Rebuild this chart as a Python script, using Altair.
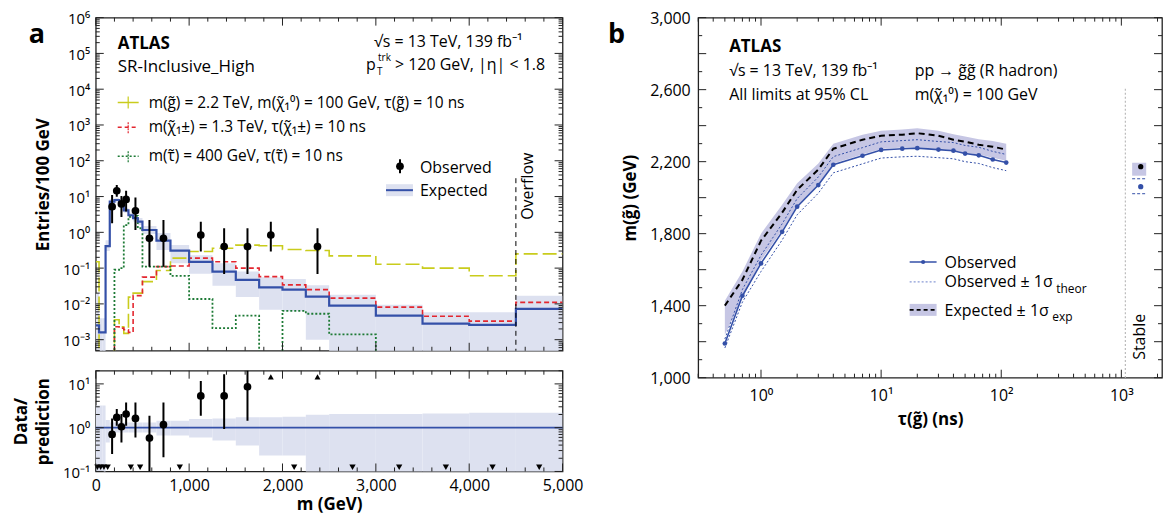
import altair as alt
import pandas as pd

FONT = "Open Sans"

# ---------------- Panel a: mass distribution ----------------
edges = [0, 35, 70, 105, 150, 200, 250, 300, 350, 400, 450, 500, 650, 800, 1000,
         1250, 1500, 1750, 2000, 2250, 2500, 3000, 3500, 4000, 4500, 5000]
exp_a = [0.0025, 0.0016, 0.0016, 0.41, 7.2, 8.0, 5.8, 4.1, 3.0, 2.5, 2.0, 1.16, 0.59,
         0.31, 0.15, 0.08, 0.047, 0.029, 0.025, 0.016, 0.0089, 0.0047, 0.0028, 0.0026, 0.0073]
band_lo = [1e-7, 1e-7, 1e-7, 0.3, 6.0, 6.8, 5.0, 3.5, 2.5, 2.0, 1.6, 0.9, 0.32,
           0.137, 0.07, 0.032, 0.0155, 0.0069, 0.0062, 0.001, 1e-7, 1e-7, 1e-7, 1e-7, 1e-7]
band_hi = [0.02, 0.004, 0.004, 0.6, 8.5, 9.2, 6.7, 4.8, 3.5, 2.9, 2.5, 1.5, 0.96,
           0.44, 0.23, 0.137, 0.08, 0.056, 0.05, 0.033, 0.018, 0.0094, 0.0058, 0.0058, 0.0168]
sig_gluino = [0.15, 1e-7, 1e-7, 1e-7, 1e-7, 0.0036, 0.0023, 0.0015, 0.0155, 0.02, 0.02, 0.042,
              0.086, 0.19, 0.29, 0.36, 0.44, 0.42, 0.33, 0.31, 0.22, 0.128, 0.10, 0.061, 0.25]
sig_chargino = [1e-7, 1e-7, 1e-7, 1e-7, 1e-7, 0.0023, 0.0021, 0.0019, 0.0016, 0.017, 0.017, 0.056,
                0.11, 0.115, 0.19, 0.15, 0.10, 0.058, 0.034, 0.025, 0.0145, 0.0081, 0.0045, 0.0033, 0.011]
sig_stau = [1e-7, 1e-7, 1e-7, 1e-7, 1e-7, 0.09, 0.1, 1.6, 2.7, 2.9, 1.3, 0.11,
            0.11, 0.061, 0.0137, 0.0021, 0.0047, 1e-7, 0.0064, 0.0053, 0.0014, 1e-7, 1e-7, 1e-7, 1e-7]

obs_m = [175, 225, 275, 325, 425, 575, 725, 1125, 1375, 1625, 1875, 2375]
obs_v = [5.2, 14.5, 6.2, 8.3, 4.0, 0.68, 0.68, 0.84, 0.40, 0.40, 0.84, 0.40]
obs_lo = [1.8, 9.9, 2.7, 3.8, 1.16, 0.11, 0.11, 0.29, 0.069, 0.069, 0.29, 0.069]
obs_hi = [11, 20.9, 10.3, 14.5, 9.4, 2.2, 2.2, 1.98, 1.3, 1.3, 1.98, 1.3]

ratio_m = [175, 225, 275, 325, 425, 575, 725, 1125, 1375, 1625]
ratio_v = [0.70, 1.71, 1.05, 2.05, 1.63, 0.58, 1.17, 5.3, 5.3, 8.6]
ratio_lo = [0.25, 1.11, 0.46, 1.11, 0.60, 0.1, 0.21, 1.87, 0.93, 1.44]
ratio_hi = [1.63, 2.66, 2.05, 3.76, 3.76, 1.87, 3.76, 11.7, 16.5, 25]
r_band_lo = [0.01, 0.01, 0.01, 0.46, 0.78, 0.78, 0.78, 0.78, 0.78, 0.78, 0.78, 0.78, 0.66,
             0.66, 0.60, 0.51, 0.39, 0.23, 0.23, 0.01, 0.01, 0.01, 0.01, 0.01, 0.01]
r_band_hi = [3.2, 3.2, 3.2, 1.5, 1.32, 1.32, 1.32, 1.32, 1.32, 1.32, 1.32, 1.32, 1.44,
             1.44, 1.57, 1.63, 1.72, 1.72, 1.78, 1.97, 2.05, 2.05, 2.1, 2.2, 2.2]
up_m = [1875, 2375]
up_y = 14.5
down_m = [17.5, 52.5, 87.5, 127.5, 375, 475, 900, 2125, 2750, 3250, 3750, 4250, 4750]
down_y = 0.125
overflow_m = 4500

# ---------------- Panel b: lifetime limits ----------------
tau = [0.5, 0.7, 1, 1.5, 2, 3, 4, 7, 10, 15, 20, 30, 40, 50, 65, 85, 110]
m_obs = [1190, 1455, 1635, 1810, 1950, 2070, 2183, 2233, 2265, 2272, 2275, 2267, 2261, 2245, 2235, 2212, 2195]
m_exp = [1400, 1544, 1761, 1917, 2044, 2156, 2272, 2322, 2344, 2350, 2358, 2344, 2322, 2311, 2294, 2283, 2267]
exp_up = [1428, 1590, 1800, 1960, 2080, 2190, 2300, 2350, 2372, 2378, 2385, 2372, 2352, 2340, 2325, 2315, 2300]
exp_dn = [1239, 1440, 1650, 1820, 1955, 2075, 2190, 2240, 2270, 2278, 2280, 2272, 2262, 2250, 2240, 2222, 2205]
th_up = [1215, 1490, 1680, 1855, 1995, 2115, 2228, 2278, 2310, 2317, 2322, 2312, 2306, 2290, 2280, 2257, 2240]
th_dn = [1165, 1420, 1590, 1765, 1905, 2025, 2138, 2188, 2220, 2227, 2230, 2222, 2216, 2200, 2190, 2167, 2150]
stable_tau = [1450]
stable_span = [1230, 1610]
stable_obs = [2061]
stable_exp = [2172]
stable_band = [2122, 2194]
stable_th = [2022, 2105]
stable_line_tau = 1080
stable_line_top = 2605

# ---------------- geometry ----------------
W_A, H_A1, H_A2 = 468, 334, 101
W_B, H_B = 465, 361

SX_A = alt.Scale(domain=[0, 5000], nice=False, zero=False)
SY_A = alt.Scale(type="log", domain=[4.9e-4, 1e6], nice=False)
SY_R = alt.Scale(type="log", domain=[0.1, 20], nice=False)
SX_B = alt.Scale(type="log", domain=[0.3, 2180], nice=False)
SY_B = alt.Scale(domain=[1000, 3000], nice=False, zero=False)

YELLOW = "#c9cc1c"
RED = "#e3262f"
GREEN = "#1d7a35"
BLUE = "#3450a8"
BAND_A = "#dde1f0"
BAND_B = "#c6c6e4"

SUP = str.maketrans("-0123456789", "⁻⁰¹²³⁴⁵⁶⁷⁸⁹")
NB = "\u00a0"


def pow_expr(exps):
    expr = "''"
    for k in exps:
        lab = "10" + str(k).translate(SUP)
        expr = f"abs(log(datum.value)/LN10 - ({k})) < 0.01 ? '{lab}' : " + expr
    return expr


def log_minor(lo, hi):
    out = []
    d = 1e-6
    while d < hi * 10:
        for k in range(2, 10):
            v = k * d
            if lo <= v <= hi:
                out.append(v)
        d *= 10
    return out


def enc(ch, field, scale, axis="omit"):
    cls = alt.X if ch == "x" else alt.Y
    if axis == "omit":
        return cls(field, scale=scale)
    return cls(field, scale=scale, axis=axis)


dummy = pd.DataFrame({"d": [0]})


def txt(s, x, y, size=16, bold=False, align="left", baseline="alphabetic", angle=None, color="black"):
    props = dict(text=s, fontSize=size, align=align, baseline=baseline, font=FONT, color=color)
    if bold:
        props["fontWeight"] = "bold"
    if angle is not None:
        props["angle"] = angle
    return alt.Chart(dummy).mark_text(**props).encode(x=alt.value(x), y=alt.value(y))


def hrule(x1, x2, y, color, dash=None, width=1.5):
    props = dict(color=color, strokeWidth=width)
    if dash:
        props["strokeDash"] = dash
    return alt.Chart(dummy).mark_rule(**props).encode(x=alt.value(x1), x2=alt.value(x2), y=alt.value(y))


def vrule(x, y1, y2, color, dash=None, width=1.5):
    props = dict(color=color, strokeWidth=width)
    if dash:
        props["strokeDash"] = dash
    return alt.Chart(dummy).mark_rule(**props).encode(x=alt.value(x), y=alt.value(y1), y2=alt.value(y2))


def ticks(xs, ys, W, H, xmaj, xmin, ymaj, ymin, xaxis="omit", Lmaj=8, Lmin=4):
    layers = []
    for vals, L in ((xmaj, Lmaj), (xmin, Lmin)):
        c = alt.Chart(pd.DataFrame({"t": vals})).mark_rule(color="#222", strokeWidth=1)
        xe = enc("x", "t:Q", xs, xaxis)
        layers.append(c.encode(x=xe, y=alt.value(H), y2=alt.value(H - L)))
        layers.append(c.encode(x=xe, y=alt.value(0), y2=alt.value(L)))
    for vals, L in ((ymaj, Lmaj), (ymin, Lmin)):
        c = alt.Chart(pd.DataFrame({"t": vals})).mark_rule(color="#222", strokeWidth=1)
        ye = enc("y", "t:Q", ys)
        layers.append(c.encode(y=ye, x=alt.value(0), x2=alt.value(L)))
        layers.append(c.encode(y=ye, x=alt.value(W), x2=alt.value(W - L)))
    return layers


def steps(vals):
    rows = []
    for i, v in enumerate(vals):
        rows.append({"x": edges[i], "y": v, "o": 2 * i})
        rows.append({"x": edges[i + 1], "y": v, "o": 2 * i + 1})
    return pd.DataFrame(rows)


def step_line(vals, color, dash, width):
    props = dict(color=color, strokeWidth=width, clip=True)
    if dash:
        props["strokeDash"] = dash
    return alt.Chart(steps(vals)).mark_line(**props).encode(
        x=enc("x", "x:Q", SX_A, None),
        y=enc("y", "y:Q", SY_A),
        order="o:Q")


# ---------- panel a (top) ----------
band_df = pd.DataFrame({"x": edges[:-1], "x2": edges[1:], "lo": band_lo, "hi": band_hi})
band_a = alt.Chart(band_df).mark_rect(color=BAND_A, clip=True).encode(
    x=enc("x", "x:Q", SX_A, None), x2="x2:Q",
    y=enc("y", "lo:Q", SY_A, alt.Axis(
        values=[10.0 ** k for k in range(-3, 7)], labelExpr=pow_expr(range(-3, 7)),
        ticks=False, domain=False, grid=False, labelPadding=6, labelOffset=1,
        labelOverlap=False, labelFlush=False, labelFontSize=15,
        title="Entries/100 GeV", titlePadding=10)),
    y2="hi:Q")

obs_df = pd.DataFrame({"x": obs_m, "y": obs_v, "lo": obs_lo, "hi": obs_hi})
obs_err = alt.Chart(obs_df).mark_rule(color="black", strokeWidth=2, clip=True).encode(
    x=enc("x", "x:Q", SX_A, None), y=enc("y", "lo:Q", SY_A), y2="hi:Q")
obs_pts = alt.Chart(obs_df).mark_circle(color="black", size=60, opacity=1).encode(
    x=enc("x", "x:Q", SX_A, None), y=enc("y", "y:Q", SY_A))

overflow = alt.Chart(pd.DataFrame({"x": [overflow_m]})).mark_rule(
    color="black", strokeDash=[5, 4], strokeWidth=1).encode(
    x=enc("x", "x:Q", SX_A, None), y=alt.value(161), y2=alt.value(H_A1))

xa_major = [0, 1000, 2000, 3000, 4000, 5000]
xa_minor = [v for v in range(200, 5000, 200) if v % 1000]

leg_a = [
    hrule(22, 43, 85, YELLOW, [12, 0], 1.5), vrule(32.5, 79, 91, YELLOW, None, 1.2),
    hrule(22, 43, 110, RED, [4, 3], 1.5), vrule(32.5, 105, 116, RED, [2, 1], 1.2),
    hrule(22, 43, 139, GREEN, [2, 2], 1.5), vrule(32.5, 134, 145, GREEN, [2, 1], 1.2),
    txt("m(g̃) = 2.2 TeV, m(χ̃₁⁰) = 100 GeV, τ(g̃) = 10 ns", 53, 91, 15.5),
    txt("m(χ̃₁±) = 1.3 TeV, τ(χ̃₁±) = 10 ns", 53, 115, 15.5),
    txt("m(τ̃) = 400 GeV, τ(τ̃) = 10 ns", 53, 144, 15.5),
    vrule(305, 142, 156, "black", None, 2),
    alt.Chart(dummy).mark_circle(color="black", size=60, opacity=1).encode(x=alt.value(305), y=alt.value(149)),
    txt("Observed", 325, 156),
    alt.Chart(dummy).mark_rect(color=BAND_A).encode(x=alt.value(291), x2=alt.value(318), y=alt.value(167), y2=alt.value(179)),
    hrule(291, 318, 173, BLUE, None, 2),
    txt("Expected", 325, 179),
    txt("ATLAS", 22, 31, 17, bold=True),
    txt("SR-Inclusive_High", 22, 55, 17),
    txt("√s = 13 TeV, 139 fb⁻¹", 428, 29, 16, align="right"),
    txt("p", 271, 53, 16),
    txt("trk", 283, 43, 10),
    txt("T", 282, 58, 10),
    txt("> 120 GeV, |η| < 1.8", 300, 53, 16),
    txt("Overflow", 433, 169, 16, align="center", baseline="middle", angle=270),
    txt("a", -59, 25, 27, bold=True, align="center"),
]

top_a = alt.layer(
    band_a,
    step_line(sig_gluino, YELLOW, [14, 5], 1.6),
    step_line(sig_chargino, RED, [5, 3], 1.6),
    step_line(sig_stau, GREEN, [2, 2], 1.8),
    step_line(exp_a, BLUE, None, 2.2),
    overflow, obs_err, obs_pts,
    *ticks(SX_A, SY_A, W_A, H_A1, xa_major, xa_minor,
           [10.0 ** k for k in range(-3, 7)], log_minor(4.9e-4, 1e6), xaxis=None),
    *leg_a,
).properties(width=W_A, height=H_A1)

# ---------- panel a (ratio) ----------
rband_df = pd.DataFrame({"x": edges[:-1], "x2": edges[1:], "lo": r_band_lo, "hi": r_band_hi})
rband = alt.Chart(rband_df).mark_rect(color=BAND_A, clip=True).encode(
    x=enc("x", "x:Q", SX_A, alt.Axis(
        values=xa_major, format=",d", ticks=False, domain=False, grid=False,
        labelPadding=6, labelFlush=False, labelOverlap=False, labelFontSize=16,
        title="m (GeV)", titlePadding=3)),
    x2="x2:Q",
    y=enc("y", "lo:Q", SY_R, alt.Axis(
        values=[0.1, 1, 10], labelExpr=pow_expr([-1, 0, 1]), ticks=False, domain=False,
        grid=False, labelPadding=6, labelOffset=1, labelFlush=False, labelOverlap=False,
        labelFontSize=15, title=["Data/", "prediction"],
        titlePadding=10, titleLineHeight=22)),
    y2="hi:Q")
one_line = alt.Chart(pd.DataFrame({"v": [1.0]})).mark_rule(color=BLUE, strokeWidth=1.8).encode(
    y=enc("y", "v:Q", SY_R), x=alt.value(0), x2=alt.value(W_A))
r_df = pd.DataFrame({"x": ratio_m, "y": ratio_v, "lo": ratio_lo, "hi": ratio_hi})
r_err = alt.Chart(r_df).mark_rule(color="black", strokeWidth=2, clip=True).encode(
    x=enc("x", "x:Q", SX_A), y=enc("y", "lo:Q", SY_R), y2="hi:Q")
r_pts = alt.Chart(r_df).mark_circle(color="black", size=60, opacity=1).encode(
    x=enc("x", "x:Q", SX_A), y=enc("y", "y:Q", SY_R))
up_tri = alt.Chart(pd.DataFrame({"x": up_m, "y": [up_y] * len(up_m)})).mark_point(
    shape="triangle-up", filled=True, size=35, color="black", opacity=1).encode(
    x=enc("x", "x:Q", SX_A), y=enc("y", "y:Q", SY_R))
dn_tri = alt.Chart(pd.DataFrame({"x": down_m, "y": [down_y] * len(down_m)})).mark_point(
    shape="triangle-down", filled=True, size=40, color="black", opacity=1).encode(
    x=enc("x", "x:Q", SX_A), y=enc("y", "y:Q", SY_R))

bottom_a = alt.layer(
    rband, one_line, r_err, r_pts, up_tri, dn_tri,
    *ticks(SX_A, SY_R, W_A, H_A2, xa_major, xa_minor, [0.1, 1, 10], log_minor(0.1, 20)),
).properties(width=W_A, height=H_A2)

# ---------- panel b ----------
b_df = pd.DataFrame({"t": tau, "obs": m_obs, "exp": m_exp, "eu": exp_up, "ed": exp_dn,
                     "tu": th_up, "td": th_dn})
b_band = alt.Chart(b_df).mark_area(color=BAND_B, opacity=1).encode(
    x=enc("x", "t:Q", SX_B, alt.Axis(
        values=[1, 10, 100, 1000], labelExpr=pow_expr([0, 1, 2, 3]), ticks=False, domain=False,
        grid=False, labelPadding=10, labelFlush=False, labelOverlap=False, labelFontSize=16,
        title="τ(g̃) (ns)", titlePadding=8)),
    y=enc("y", "ed:Q", SY_B, alt.Axis(
        values=list(range(1000, 3001, 200)), format=",d", ticks=False, domain=False, grid=False,
        labelPadding=8, labelOffset=1, labelFlush=False, labelOverlap=False, labelFontSize=16,
        title="m(g̃) (GeV)", titlePadding=10)),
    y2="eu:Q")


def b_line(field, color, dash, width):
    props = dict(color=color, strokeWidth=width)
    if dash:
        props["strokeDash"] = dash
    return alt.Chart(b_df).mark_line(**props).encode(
        x=enc("x", "t:Q", SX_B), y=enc("y", f"{field}:Q", SY_B))


b_pts = alt.Chart(b_df).mark_circle(color=BLUE, size=22, opacity=1).encode(
    x=enc("x", "t:Q", SX_B), y=enc("y", "obs:Q", SY_B))

st_df = pd.DataFrame({"x": [stable_span[0]], "x2": [stable_span[1]],
                      "lo": [stable_band[0]], "hi": [stable_band[1]]})
st_rect = alt.Chart(st_df).mark_rect(color=BAND_B).encode(
    x=enc("x", "x:Q", SX_B), x2="x2:Q",
    y=enc("y", "lo:Q", SY_B), y2="hi:Q")
st_th = alt.Chart(pd.DataFrame({"x": [stable_span[0]] * 2, "x2": [stable_span[1]] * 2, "y": stable_th})).mark_rule(
    color=BLUE, strokeDash=[3, 2], strokeWidth=1).encode(
    x=enc("x", "x:Q", SX_B), x2="x2:Q", y=enc("y", "y:Q", SY_B))
st_exp = alt.Chart(pd.DataFrame({"x": stable_tau, "y": stable_exp})).mark_circle(
    color="black", size=28, opacity=1).encode(
    x=enc("x", "x:Q", SX_B), y=enc("y", "y:Q", SY_B))
st_obs = alt.Chart(pd.DataFrame({"x": stable_tau, "y": stable_obs})).mark_circle(
    color=BLUE, size=28, opacity=1).encode(
    x=enc("x", "x:Q", SX_B), y=enc("y", "y:Q", SY_B))
st_line = alt.Chart(pd.DataFrame({"x": [stable_line_tau], "y": [stable_line_top], "y2": [1000]})).mark_rule(
    color="#bbbbbb", strokeDash=[2, 2], strokeWidth=1.2).encode(
    x=enc("x", "x:Q", SX_B), y=enc("y", "y:Q", SY_B), y2="y2:Q")

xb_major = [1, 10, 100, 1000]
yb_major = list(range(1000, 3001, 200))
yb_minor = list(range(1100, 3000, 200))

leg_b = [
    hrule(212, 239, 245, BLUE, None, 1.5),
    alt.Chart(dummy).mark_circle(color=BLUE, size=18, opacity=1).encode(x=alt.value(225.5), y=alt.value(245)),
    txt("Observed", 247, 251),
    hrule(212, 239, 265, "#8a9bd6", [2, 2], 1.2),
    txt(f"Observed{NB}±{NB}1σ", 247, 270),
    txt("theor", 359, 276, 12),
    alt.Chart(dummy).mark_rect(color=BAND_B).encode(x=alt.value(212), x2=alt.value(239), y=alt.value(287), y2=alt.value(299)),
    hrule(212, 239, 293, "black", [4, 3], 1.8),
    txt(f"Expected{NB}±{NB}1σ", 247, 299),
    txt("exp", 355, 304, 12),
    txt("ATLAS", 31, 34, 17, bold=True),
    txt("√s = 13 TeV, 139 fb⁻¹", 31, 59),
    txt("All limits at 95% CL", 31, 83),
    txt("pp → g̃g̃ (R hadron)", 217, 59),
    txt("m(χ̃₁⁰) = 100 GeV", 217, 83),
    txt("Stable", 443, 320, 16, align="center", baseline="middle", angle=270),
    txt("b", -82, 25, 27, bold=True, align="center"),
]

panel_b = alt.layer(
    b_band,
    b_line("tu", BLUE, [2, 2], 1),
    b_line("td", BLUE, [2, 2], 1),
    b_line("exp", "black", [6, 4], 2),
    b_line("obs", BLUE, None, 1.6),
    b_pts, st_line, st_rect, st_th, st_exp, st_obs,
    *ticks(SX_B, SY_B, W_B, H_B, xb_major, log_minor(0.3, 2180), yb_major, yb_minor),
    *leg_b,
).properties(width=W_B, height=H_B)

chart = alt.hconcat(
    alt.vconcat(top_a, bottom_a, spacing=16),
    panel_b,
    spacing=22,
).properties(
    padding={"left": 3, "top": 1, "right": 0, "bottom": 0}
).configure(font=FONT).configure_view(
    stroke="#222", strokeWidth=1.3
).configure_axis(
    labelFont=FONT, labelFontSize=16, labelColor="black",
    titleFont=FONT, titleFontSize=17, titleFontWeight="bold", titleColor="black"
)

chart.save("out.html", embed_options={"renderer": "svg", "actions": False})
